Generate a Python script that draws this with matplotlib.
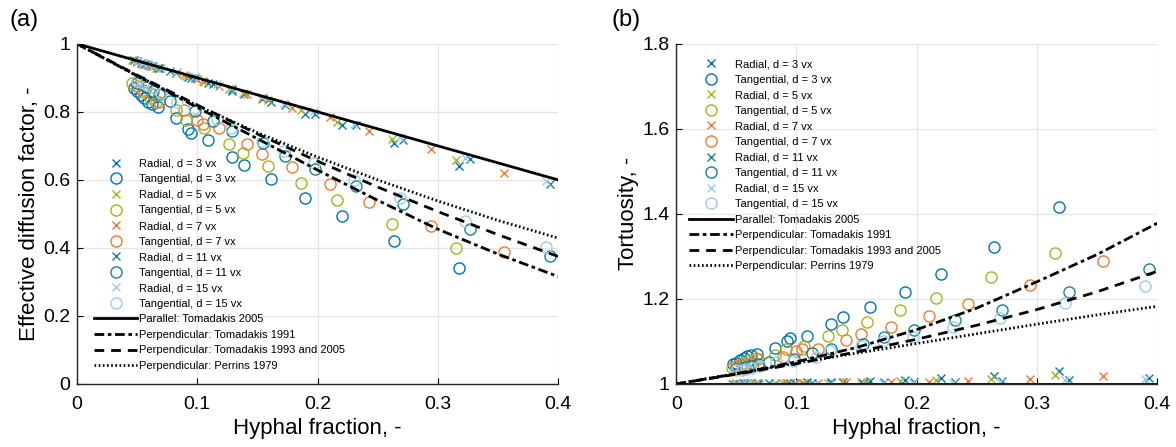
import numpy as np
import matplotlib
matplotlib.use("Agg")
import matplotlib.pyplot as plt

plt.rcParams['font.family'] = ['Liberation Sans', 'DejaVu Sans']

# Hyphal fraction and effective diffusion factor for each simulation series
phi_d3 = [0.047, 0.050, 0.053, 0.056, 0.059, 0.062, 0.067, 0.082, 0.092, 0.095, 0.109, 0.129, 0.139, 0.161, 0.190, 0.220, 0.264, 0.318]
rad_d3 = [0.951, 0.948, 0.945, 0.940, 0.937, 0.934, 0.929, 0.913, 0.903, 0.900, 0.884, 0.862, 0.852, 0.829, 0.794, 0.760, 0.708, 0.642]
tan_d3 = [0.870, 0.862, 0.850, 0.840, 0.828, 0.822, 0.814, 0.782, 0.750, 0.738, 0.718, 0.668, 0.643, 0.602, 0.548, 0.493, 0.421, 0.340]

phi_d5 = [0.046, 0.050, 0.055, 0.061, 0.066, 0.082, 0.091, 0.106, 0.126, 0.138, 0.159, 0.186, 0.216, 0.262, 0.315]
rad_d5 = [0.952, 0.948, 0.943, 0.936, 0.930, 0.914, 0.905, 0.889, 0.868, 0.856, 0.834, 0.804, 0.771, 0.720, 0.658]
tan_d5 = [0.886, 0.875, 0.858, 0.840, 0.830, 0.804, 0.776, 0.753, 0.706, 0.678, 0.640, 0.591, 0.542, 0.471, 0.400]

phi_d7 = [0.050, 0.055, 0.062, 0.068, 0.089, 0.100, 0.105, 0.118, 0.141, 0.154, 0.179, 0.210, 0.243, 0.294, 0.355]
rad_d7 = [0.947, 0.942, 0.935, 0.929, 0.907, 0.896, 0.891, 0.877, 0.853, 0.839, 0.812, 0.784, 0.745, 0.690, 0.621]
tan_d7 = [0.876, 0.865, 0.852, 0.830, 0.804, 0.776, 0.763, 0.752, 0.705, 0.676, 0.639, 0.588, 0.536, 0.465, 0.388]

phi_d11 = [0.050, 0.057, 0.063, 0.068, 0.077, 0.098, 0.113, 0.129, 0.155, 0.173, 0.198, 0.232, 0.271, 0.327, 0.393]
rad_d11 = [0.948, 0.941, 0.935, 0.930, 0.920, 0.899, 0.883, 0.866, 0.840, 0.821, 0.795, 0.760, 0.718, 0.660, 0.589]
tan_d11 = [0.885, 0.872, 0.862, 0.852, 0.833, 0.803, 0.772, 0.745, 0.707, 0.670, 0.632, 0.581, 0.529, 0.455, 0.376]

phi_d15 = [0.050, 0.055, 0.058, 0.063, 0.070, 0.083, 0.097, 0.116, 0.128, 0.154, 0.172, 0.197, 0.230, 0.269, 0.323, 0.390]
rad_d15 = [0.949, 0.944, 0.941, 0.936, 0.929, 0.916, 0.902, 0.883, 0.871, 0.845, 0.826, 0.801, 0.765, 0.725, 0.665, 0.597]
tan_d15 = [0.890, 0.885, 0.878, 0.870, 0.855, 0.830, 0.811, 0.780, 0.752, 0.713, 0.684, 0.651, 0.600, 0.548, 0.478, 0.403]

diameters = [3, 5, 7, 11, 15]
colors = ['#0072BD', '#A5B41E', '#EE7A36', '#14858F', '#9CCBEE']

# model curves
phi_model = [0, 0.05, 0.1, 0.15, 0.2, 0.25, 0.3, 0.35, 0.4]
par_tom2005 = [1, 0.95, 0.9, 0.85, 0.8, 0.75, 0.7, 0.65, 0.6]
perp_tom1991 = [1, 0.906, 0.813, 0.721, 0.629, 0.540, 0.455, 0.382, 0.316]
perp_tom1993 = [1, 0.908, 0.820, 0.735, 0.655, 0.579, 0.507, 0.439, 0.375]
perp_perrins = [1, 0.905, 0.818, 0.739, 0.667, 0.600, 0.538, 0.481, 0.429]

sim = [(phi_d3, rad_d3, tan_d3), (phi_d5, rad_d5, tan_d5), (phi_d7, rad_d7, tan_d7),
       (phi_d11, rad_d11, tan_d11), (phi_d15, rad_d15, tan_d15)]
models = [(par_tom2005, 'Parallel: Tomadakis 2005', '-'),
          (perp_tom1991, 'Perpendicular: Tomadakis 1991', (0, (3.5, 1.3, 1.3, 1.3))),
          (perp_tom1993, 'Perpendicular: Tomadakis 1993 and 2005', (0, (3.5, 2.5))),
          (perp_perrins, 'Perpendicular: Perrins 1979', (0, (0.6, 0.9)))]


def tortuosity(phi, D):
    # effective diffusion factor = porosity / tortuosity^2
    phi = np.asarray(phi)
    return np.sqrt((1 - phi) / np.asarray(D))


fig = plt.figure(figsize=(11.76, 4.47), dpi=100)
ax1 = fig.add_axes([0.0655, 0.141, 0.409, 0.761])
ax2 = fig.add_axes([0.575, 0.141, 0.409, 0.761])

for ax, conv in [(ax1, False), (ax2, True)]:
    for (phi, rad, tan), d, c in zip(sim, diameters, colors):
        yr = tortuosity(phi, rad) if conv else rad
        yt = tortuosity(phi, tan) if conv else tan
        ax.plot(phi, yr, ls='none', marker='x', ms=5.5, mew=1, color=c,
                label='Radial, d = %d vx' % d)
        ax.plot(phi, yt, ls='none', marker='o', ms=8, mew=1, mfc='none', mec=c,
                label='Tangential, d = %d vx' % d)
    for vals, lab, ls in models:
        y = tortuosity(phi_model, vals) if conv else vals
        ax.plot(phi_model, y, color='black', lw=2, ls=ls, label=lab)

    ax.set_xlim(0, 0.4)
    ax.set_xticks([0, 0.1, 0.2, 0.3, 0.4])
    ax.set_xticklabels(['0', '0.1', '0.2', '0.3', '0.4'])
    ax.grid(True, color='#e6e6e6', lw=1)
    ax.set_axisbelow(True)
    for s in ['top', 'right']:
        ax.spines[s].set_visible(False)
    for s in ['left', 'bottom']:
        ax.spines[s].set_linewidth(1)
        ax.spines[s].set_color('#262626')
    ax.tick_params(direction='in', length=4, labelsize=14, top=False, right=False, pad=5)
    ax.tick_params(axis='x', pad=9)
    ax.set_xlabel('Hyphal fraction, -', fontsize=16, labelpad=3)
    leg = ax.legend(loc='upper left', frameon=False, fontsize=8, handlelength=3.9,
                    handletextpad=0.2, labelspacing=0.5, borderpad=0, borderaxespad=0,
                    bbox_to_anchor=(0.035, 0.662) if not conv else (0.027, 0.955))

ax1.set_ylim(0, 1)
ax1.set_yticks([0, 0.2, 0.4, 0.6, 0.8, 1])
ax1.set_yticklabels(['0', '0.2', '0.4', '0.6', '0.8', '1'])
ax1.set_ylabel('Effective diffusion factor, -', fontsize=16, labelpad=2)

ax2.set_ylim(1, 1.8)
ax2.set_yticks([1, 1.2, 1.4, 1.6, 1.8])
ax2.set_yticklabels(['1', '1.2', '1.4', '1.6', '1.8'])
ax2.set_ylabel('Tortuosity, -', fontsize=16, labelpad=2)

fig.text(0.008, 0.955, '(a)', fontsize=17, va='center')
fig.text(0.520, 0.955, '(b)', fontsize=17, va='center')

fig.savefig('out.png', dpi=100)
